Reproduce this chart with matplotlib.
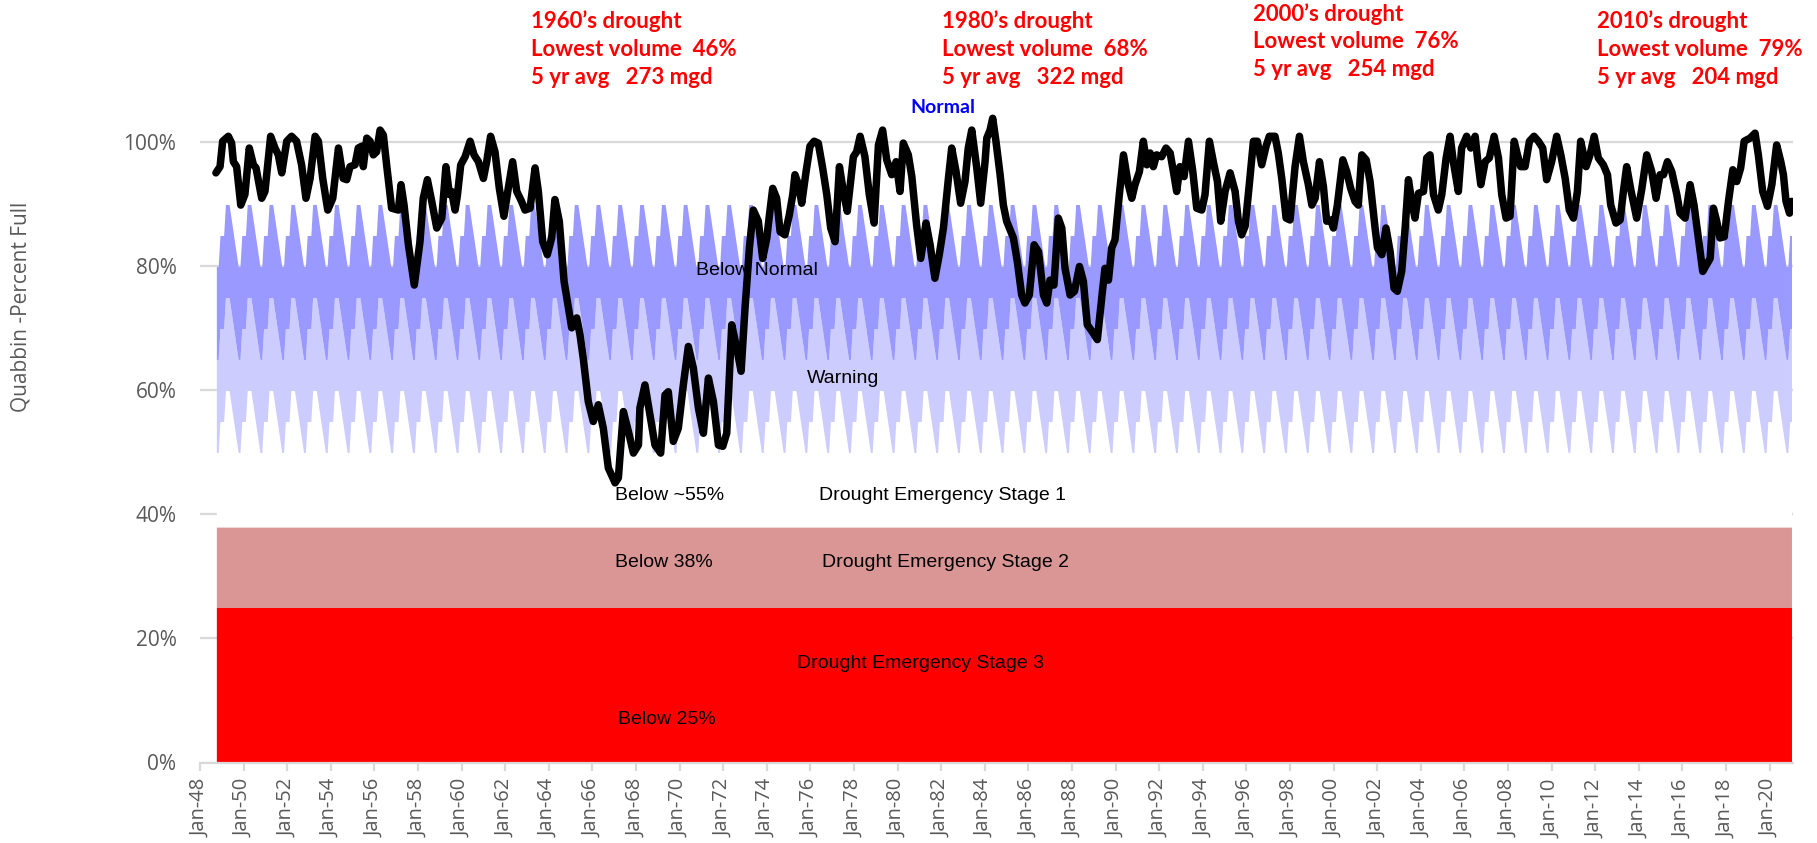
import matplotlib
matplotlib.use("Agg")
import matplotlib.pyplot as plt
import numpy as np

# ---------------- data ----------------
# Quabbin reservoir percent full (decimal year, percent)
dates_a = [1948.73, 1948.92, 1949.04, 1949.30, 1949.45, 1949.53, 1949.68, 1949.87, 1950.06, 1950.26, 1950.45, 1950.57, 1950.83, 1950.98, 1951.24, 1951.44, 1951.59, 1951.75, 1951.98, 1952.20, 1952.43, 1952.66, 1952.86, 1953.05, 1953.28, 1953.43, 1953.63, 1953.86, 1954.09, 1954.35, 1954.57, 1954.73, 1954.88]
pct_a = [95.1, 96.1, 100.2, 101.0, 99.9, 96.9, 96.1, 89.9, 91.6, 99.1, 96.4, 95.9, 91.0, 92.1, 101.0, 99.1, 98.0, 95.1, 100.2, 101.0, 100.2, 96.4, 91.0, 94.2, 101.0, 100.2, 94.2, 89.1, 91.0, 99.1, 94.2, 94.0, 96.1]

dates_b = [1955.11, 1955.26, 1955.42, 1955.49, 1955.65, 1955.80, 1955.95, 1956.10, 1956.26, 1956.41, 1956.56, 1956.79, 1957.10, 1957.22, 1957.36, 1957.56, 1957.83, 1958.09, 1958.24, 1958.43, 1958.63, 1958.86, 1959.09, 1959.28, 1959.44, 1959.54, 1959.70, 1959.80, 1959.96]
pct_b = [96.4, 99.1, 99.4, 96.1, 100.7, 100.2, 98.0, 98.5, 102.0, 101.2, 96.4, 89.4, 89.1, 93.2, 89.9, 83.5, 77.0, 84.0, 91.0, 94.0, 90.5, 86.2, 87.8, 96.1, 91.6, 92.1, 89.1, 91.3, 96.4]

dates_c = [1960.16, 1960.39, 1960.57, 1960.77, 1961.00, 1961.15, 1961.33, 1961.53, 1961.73, 1961.94, 1962.14, 1962.34, 1962.53, 1962.75, 1962.91, 1963.14, 1963.37, 1963.52, 1963.72, 1963.93, 1964.13, 1964.28, 1964.48, 1964.70, 1964.90, 1965.05, 1965.28, 1965.43, 1965.58, 1965.81, 1966.04, 1966.27]
pct_c = [97.7, 100.2, 98.0, 96.9, 94.2, 96.9, 101.0, 98.5, 92.6, 88.1, 92.6, 96.9, 92.1, 90.5, 89.1, 89.4, 95.9, 92.1, 84.0, 81.9, 84.6, 90.8, 87.3, 77.6, 73.3, 70.1, 71.7, 69.0, 65.2, 58.2, 55.0, 57.7]

dates_d = [1966.50, 1966.73, 1967.04, 1967.19, 1967.42, 1967.65, 1967.88, 1968.11, 1968.18, 1968.41, 1968.64, 1968.87, 1969.13, 1969.33, 1969.48, 1969.71, 1969.94, 1970.17, 1970.40, 1970.63, 1970.86, 1971.09, 1971.32, 1971.55, 1971.78, 1971.98, 1972.16, 1972.39, 1972.62, 1972.82, 1973.00, 1973.20, 1973.38, 1973.61, 1973.81, 1974.00, 1974.12, 1974.27, 1974.45, 1974.61, 1974.83]
pct_d = [53.9, 47.5, 45.1, 45.9, 56.6, 53.4, 49.9, 51.2, 57.2, 60.9, 56.1, 51.2, 49.9, 59.3, 59.8, 51.8, 53.9, 60.9, 67.1, 63.6, 57.2, 53.1, 62.0, 58.2, 51.2, 51.0, 53.1, 70.6, 66.8, 63.1, 73.3, 83.0, 89.1, 87.3, 81.3, 84.6, 88.3, 92.6, 91.0, 85.6, 85.1]

dates_e = [1975.03, 1975.19, 1975.29, 1975.45, 1975.60, 1975.80, 1975.98, 1976.17, 1976.36, 1976.56, 1976.75, 1976.93, 1977.13, 1977.33, 1977.51, 1977.69, 1977.97, 1978.12, 1978.28, 1978.50, 1978.70, 1978.92, 1979.12, 1979.31, 1979.50, 1979.73, 1979.93, 1980.11, 1980.26, 1980.49, 1980.65, 1980.87, 1981.06, 1981.30, 1981.49, 1981.71, 1981.91, 1982.10, 1982.33, 1982.48, 1982.68, 1982.89, 1983.09, 1983.24, 1983.40, 1983.63, 1983.81, 1984.01]
pct_e = [88.3, 91.6, 94.8, 93.2, 90.2, 95.3, 99.4, 100.2, 99.9, 95.9, 91.6, 86.2, 84.0, 96.1, 92.1, 88.9, 97.7, 98.5, 101.0, 97.7, 91.6, 87.0, 99.6, 102.0, 97.2, 94.8, 96.9, 92.1, 99.9, 98.0, 94.5, 86.7, 81.3, 87.0, 83.5, 78.1, 81.9, 86.2, 94.2, 99.1, 95.3, 90.2, 93.7, 99.1, 102.0, 95.9, 90.2, 96.9]

dates_f = [1984.09, 1984.24, 1984.36, 1984.51, 1984.70, 1984.85, 1985.00, 1985.16, 1985.31, 1985.49, 1985.69, 1985.84, 1986.04, 1986.26, 1986.46, 1986.69, 1986.84, 1986.99, 1987.17, 1987.37, 1987.53, 1987.68, 1987.91, 1988.11, 1988.34, 1988.52, 1988.70, 1988.98, 1989.16, 1989.36, 1989.51, 1989.67, 1989.82, 1989.97, 1990.17, 1990.36, 1990.58, 1990.74, 1990.89, 1991.09, 1991.27, 1991.43, 1991.58, 1991.73, 1991.88, 1992.11, 1992.31, 1992.50, 1992.65, 1992.80, 1992.95]
pct_f = [100.7, 102.0, 103.9, 100.2, 94.8, 89.9, 87.3, 85.9, 84.6, 80.8, 75.4, 74.1, 75.4, 83.5, 82.4, 75.4, 74.1, 77.8, 77.0, 87.8, 86.2, 79.7, 75.4, 76.0, 80.0, 77.6, 70.6, 69.2, 68.2, 74.9, 79.7, 77.8, 83.0, 84.3, 91.6, 98.0, 93.2, 91.0, 93.2, 95.3, 100.2, 96.4, 98.3, 96.1, 98.0, 97.7, 99.1, 98.3, 95.3, 92.1, 96.1]

dates_g = [1993.14, 1993.34, 1993.54, 1993.72, 1993.95, 1994.10, 1994.30, 1994.48, 1994.67, 1994.82, 1995.02, 1995.25, 1995.48, 1995.63, 1995.78, 1995.94, 1996.13, 1996.32, 1996.50, 1996.70, 1996.90, 1997.05, 1997.31, 1997.46, 1997.62, 1997.82, 1998.00, 1998.23, 1998.43, 1998.61, 1998.84, 1999.00, 1999.15, 1999.35, 1999.53, 1999.68, 1999.87, 1999.99, 2000.17, 2000.42, 2000.60, 2000.78, 2000.98, 2001.13, 2001.29, 2001.49, 2001.67, 2001.90]
pct_g = [94.5, 100.2, 95.3, 89.4, 89.1, 91.6, 100.2, 96.9, 93.7, 87.3, 92.1, 95.1, 92.1, 87.3, 85.1, 86.5, 93.2, 100.2, 100.2, 96.4, 99.4, 101.0, 101.0, 98.3, 94.2, 87.8, 87.5, 96.1, 101.0, 96.9, 93.2, 89.9, 91.0, 96.9, 92.9, 87.3, 87.5, 86.2, 89.9, 97.2, 95.3, 92.6, 90.5, 89.9, 98.0, 97.2, 93.7, 86.2]

dates_h = [2002.01, 2002.21, 2002.40, 2002.59, 2002.77, 2002.92, 2003.12, 2003.28, 2003.43, 2003.58, 2003.73, 2003.89, 2004.12, 2004.27, 2004.42, 2004.58, 2004.80, 2004.96, 2005.16, 2005.34, 2005.49, 2005.72, 2005.87, 2006.10, 2006.29, 2006.49, 2006.59, 2006.75, 2006.95, 2007.14, 2007.36, 2007.56, 2007.71, 2007.91, 2008.09, 2008.28, 2008.43, 2008.58, 2008.78, 2008.98, 2009.19, 2009.39, 2009.59, 2009.77, 2010.00, 2010.23, 2010.42, 2010.62, 2010.81]
pct_h = [83.0, 81.9, 86.2, 82.4, 76.5, 76.0, 79.2, 86.2, 94.0, 90.5, 87.8, 91.8, 92.1, 97.5, 98.0, 91.6, 89.1, 91.6, 97.5, 101.0, 96.9, 92.1, 99.1, 101.0, 99.1, 101.0, 97.7, 93.2, 96.9, 97.5, 101.0, 97.5, 91.6, 87.8, 88.1, 100.2, 98.0, 96.1, 96.1, 100.2, 101.0, 100.2, 99.1, 94.0, 96.9, 101.0, 98.0, 94.2, 89.1]

dates_i = [2011.00, 2011.18, 2011.33, 2011.58, 2011.76, 2011.95, 2012.14, 2012.37, 2012.56, 2012.71, 2012.95, 2013.14, 2013.29, 2013.44, 2013.63, 2013.90, 2014.13, 2014.36, 2014.59, 2014.79, 2014.97, 2015.13, 2015.31, 2015.51, 2015.74, 2015.89, 2016.12, 2016.35, 2016.53, 2016.73, 2016.93, 2017.11, 2017.27, 2017.42, 2017.57, 2017.72, 2017.92, 2018.11, 2018.31, 2018.49, 2018.67, 2018.83, 2019.10, 2019.33, 2019.48, 2019.68, 2019.90, 2020.10, 2020.32, 2020.51, 2020.63, 2020.75, 2020.91, 2021.01]
pct_i = [87.8, 92.1, 100.2, 96.1, 98.0, 101.0, 97.5, 96.4, 94.8, 89.9, 87.0, 87.5, 92.1, 96.1, 92.4, 87.8, 92.4, 98.0, 95.3, 91.0, 94.8, 94.8, 96.9, 95.3, 91.6, 88.6, 87.8, 93.2, 89.9, 84.6, 79.2, 80.3, 81.3, 89.4, 87.3, 84.6, 84.8, 90.5, 95.6, 93.7, 95.9, 100.2, 100.7, 101.5, 98.0, 92.1, 89.7, 93.2, 99.6, 96.9, 94.8, 90.5, 88.6, 90.5]

# Normal operating curve top by calendar month (Jan..Dec), percent
normal_top_by_month = [85, 85, 90, 90, 90, 88, 86, 84, 82, 80, 80, 85]
below_normal_depth = 15      # dark band depth under the normal curve
warning_depth = 15           # light band depth under the below-normal band
band_first = (1948, 10)
band_last = (2021, 1)
stage3_top = 25
stage2_top = 38

tick_years = list(range(1948, 2021, 2))
tick_labels = ["Jan-%02d" % (y % 100) for y in tick_years]
y_ticks = [0, 20, 40, 60, 80, 100]

droughts = [
    ("1960\u2019s drought", "Lowest volume  46%", "5 yr avg   273 mgd"),
    ("1980\u2019s drought", "Lowest volume  68%", "5 yr avg   322 mgd"),
    ("2000\u2019s drought", "Lowest volume  76%", "5 yr avg   254 mgd"),
    ("2010\u2019s drought", "Lowest volume  79%", "5 yr avg   204 mgd"),
]

# ---------------- build series ----------------
dates = dates_a + dates_b + dates_c + dates_d + dates_e + dates_f + dates_g + dates_h + dates_i
pct = pct_a + pct_b + pct_c + pct_d + pct_e + pct_f + pct_g + pct_h + pct_i

bx, btop = [], []
y, m = band_first
while (y, m) <= band_last:
    bx.append(y + (m - 1) / 12.0)
    btop.append(normal_top_by_month[m - 1])
    m += 1
    if m > 12:
        m = 1
        y += 1
bx = np.array(bx)
btop = np.array(btop, dtype=float)
bmid = btop - below_normal_depth
blow = bmid - warning_depth

# ---------------- figure ----------------
plt.rcParams['font.family'] = ['Open Sans', 'DejaVu Sans']
fig = plt.figure(figsize=(18.17, 8.43), dpi=100)
ax = fig.add_axes([200 / 1817, 1 - 762.5 / 843, 1593 / 1817, 662.5 / 843])

gray_txt = '#595959'
grid_c = '#d9d9d9'

ax.set_axisbelow(True)
ax.yaxis.grid(True, color=grid_c, lw=1.6)

ax.fill_between(bx, 0, stage3_top, color='#ff0000', lw=0, zorder=1)
ax.fill_between(bx, stage3_top, stage2_top, color='#d99694', lw=0, zorder=1)
ax.fill_between(bx, stage2_top, blow, color='white', lw=0, zorder=1)
ax.fill_between(bx, blow, bmid, color='#ccccff', lw=0, zorder=1)
ax.fill_between(bx, bmid, btop, color='#9999ff', lw=0, zorder=1)

ax.plot(dates, pct, color='black', lw=5.4, solid_joinstyle='round',
        solid_capstyle='round', zorder=5)

ax.set_xlim(1948.0, 2021.07)
ax.set_ylim(0, 106.85)

ax.set_yticks(y_ticks)
ax.set_yticklabels(["%d%%" % v for v in y_ticks])
ax.set_xticks(tick_years)
ax.set_xticklabels(tick_labels, rotation=90)
ax.tick_params(axis='y', length=0, pad=17, labelsize=15, labelcolor=gray_txt)
ax.tick_params(axis='x', length=6, width=1.6, color=grid_c, pad=6,
               labelsize=14.5, labelcolor=gray_txt)
for s in ['top', 'right', 'left']:
    ax.spines[s].set_visible(False)
ax.spines['bottom'].set_color(grid_c)
ax.spines['bottom'].set_linewidth(1.6)

# zone labels
lab = dict(fontsize=14, color='black', family='Liberation Sans', va='center', zorder=6)
ax.text(1970.75, 79.4, 'Below Normal', ha='left', **lab)
ax.text(1977.50, 61.9, 'Warning', ha='center', **lab)
ax.text(1967.04, 43.1, 'Below ~55%', ha='left', **lab)
ax.text(1976.39, 43.1, 'Drought Emergency Stage 1', ha='left', **lab)
ax.text(1967.04, 32.2, 'Below 38%', ha='left', **lab)
ax.text(1976.53, 32.2, 'Drought Emergency Stage 2', ha='left', **lab)
ax.text(1975.39, 15.9, 'Drought Emergency Stage 3', ha='left', **lab)
ax.text(1967.17, 6.9, 'Below 25%', ha='left', **lab)
ax.text(1982.08, 105.6, 'Normal', ha='center', va='center', fontsize=14,
        color='#0000ff', family='Lato', fontweight='bold', zorder=6)

# y label
fig.text(21 / 1817, 1 - 307 / 843, 'Quabbin -Percent Full', rotation=90,
         ha='center', va='center', color=gray_txt, fontsize=15)

# drought annotations
ann_x = [531, 942, 1253, 1597]
ann_y = [[21, 50, 78], [21, 50, 78], [14, 42, 70], [21, 50, 78]]
for (l1, l2, l3), xp, yp in zip(droughts, ann_x, ann_y):
    for txt, ypx in zip((l1, l2, l3), yp):
        fig.text(xp / 1817, 1 - ypx / 843, txt, ha='left', va='center',
                 color='#ff0000', fontsize=16, family='Lato', fontweight='bold')

fig.savefig('out.png', dpi=100)
